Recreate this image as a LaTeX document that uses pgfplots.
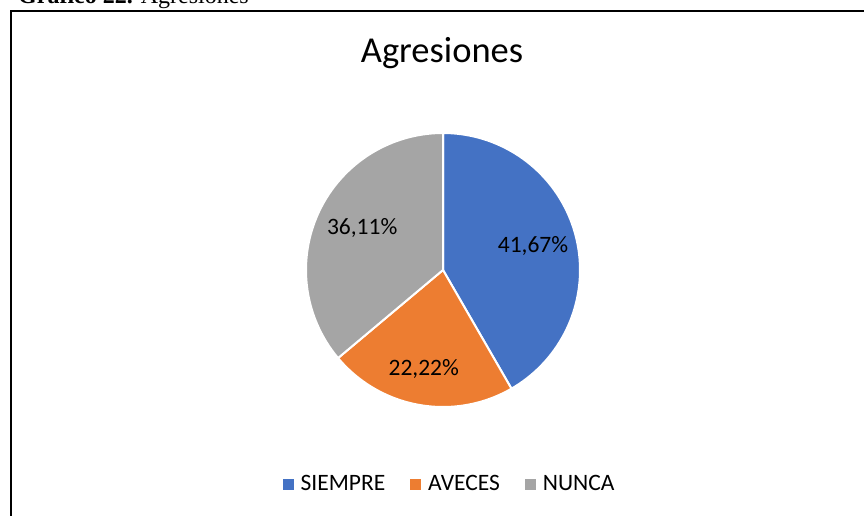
\documentclass[border=0pt]{standalone}
\usepackage{fontspec}
\setmainfont{Carlito}
\newfontfamily\timesfont{Liberation Serif}
\usepackage{pgfplots}
\pgfplotsset{compat=1.18}
\usepgfplotslibrary{polar}
\definecolor{cBlue}{HTML}{4472C4}
\definecolor{cOrange}{HTML}{ED7D31}
\definecolor{cGray}{HTML}{A5A5A5}
% percentages
\def\pA{41.67}
\def\pB{22.22}
\def\pC{36.11}
\begin{document}
\begin{tikzpicture}[x=1pt,y=1pt]
\useasboundingbox (0pt,0pt) rectangle (864pt,515pt);
% caption (cut off at top)
\node[anchor=base west, inner sep=0pt, font=\timesfont\fontsize{24}{28}\selectfont] at (18pt,511pt) {\textbf{Gráfico 22.} Agresiones};
% frame
\draw[line width=2pt, black] (11pt,-20pt) -- (11pt,504pt) -- (880pt,504pt);
% title
\node[anchor=base, inner sep=0pt, font=\fontsize{36.5}{42}\selectfont] at (442pt,452pt) {Agresiones};
\pgfmathsetmacro{\aS}{90}
\pgfmathsetmacro{\aA}{90-\pA*3.6}
\pgfmathsetmacro{\aB}{\aA-\pB*3.6}
\pgfmathsetmacro{\aC}{\aB-\pC*3.6}
\pgfmathsetmacro{\mA}{(\aS+\aA)/2}
\pgfmathsetmacro{\mB}{(\aA+\aB)/2-1}
\pgfmathsetmacro{\mC}{(\aB+\aC)/2-2.5}
\begin{polaraxis}[
  at={(443pt,245pt)}, anchor=center,
  width=274pt, height=274pt, scale only axis,
  ymin=0, ymax=1, hide axis, clip=false,
  legend columns=3,
  legend style={draw=none, fill=none, at={(0.522,-0.281)}, anchor=center,
    font=\fontsize{23.5}{27}\selectfont,
    /tikz/every odd column/.style={column sep=6pt},
    /tikz/every even column/.style={column sep=24pt},
    nodes={inner sep=1pt}, inner sep=0pt},
  legend cell align=left,
]
\addplot[fill=cBlue, draw=white, line width=2pt, domain=\aA:\aS, samples=80,
  legend image code/.code={\fill[cBlue] (0pt,-4.5pt) rectangle (9pt,4.5pt);}]
  {1} -- (axis cs:0,0) -- cycle;
\addlegendentry{SIEMPRE}
\addplot[fill=cOrange, draw=white, line width=2pt, domain=\aB:\aA, samples=60,
  legend image code/.code={\fill[cOrange] (0pt,-4.5pt) rectangle (9pt,4.5pt);}]
  {1} -- (axis cs:0,0) -- cycle;
\addlegendentry{AVECES}
\addplot[fill=cGray, draw=white, line width=2pt, domain=\aC:\aB, samples=80,
  legend image code/.code={\fill[cGray] (0pt,-4.5pt) rectangle (9pt,4.5pt);}]
  {1} -- (axis cs:0,0) -- cycle;
\addlegendentry{NUNCA}
\node[font=\fontsize{23.5}{27}\selectfont] at (axis cs:\mA,0.68) {41,67\%};
\node[font=\fontsize{23.5}{27}\selectfont] at (axis cs:\mB,0.735) {22,22\%};
\node[font=\fontsize{23.5}{27}\selectfont] at (axis cs:\mC,0.665) {36,11\%};
\end{polaraxis}
\end{tikzpicture}
\end{document}
